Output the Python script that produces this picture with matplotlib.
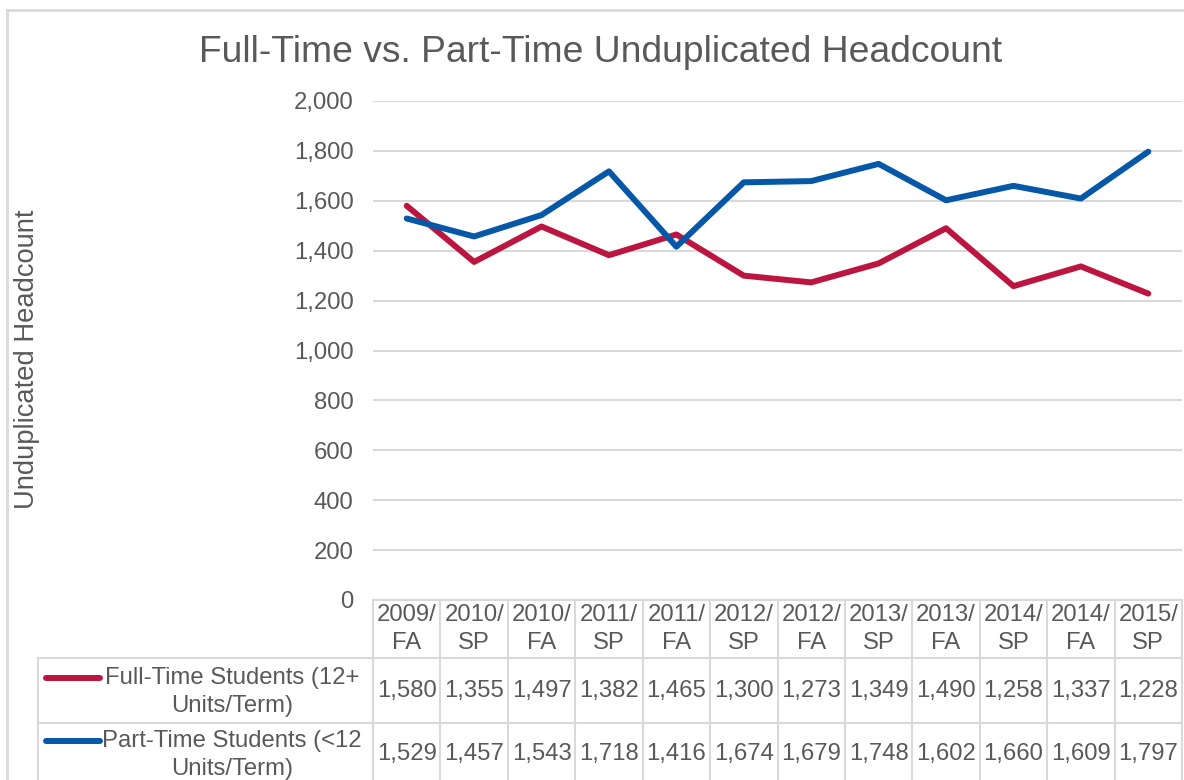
import matplotlib
matplotlib.use("Agg")
import matplotlib.pyplot as plt
from matplotlib.lines import Line2D
from matplotlib.ticker import FuncFormatter

plt.rcParams['font.family'] = ['Liberation Sans', 'DejaVu Sans']

terms = ['2009/\nFA', '2010/\nSP', '2010/\nFA', '2011/\nSP', '2011/\nFA', '2012/\nSP',
         '2012/\nFA', '2013/\nSP', '2013/\nFA', '2014/\nSP', '2014/\nFA', '2015/\nSP']
full_time = [1580, 1355, 1497, 1382, 1465, 1300, 1273, 1349, 1490, 1258, 1337, 1228]
part_time = [1529, 1457, 1543, 1718, 1416, 1674, 1679, 1748, 1602, 1660, 1609, 1797]
series_names = ['Full-Time Students (12+\nUnits/Term)', 'Part-Time Students (<12\nUnits/Term)']
yticks = [0, 200, 400, 600, 800, 1000, 1200, 1400, 1600, 1800, 2000]

red = '#BB1540'
blue = '#0558A8'
txt = '#595959'
grid = '#D9D9D9'
fs = 17.2

W, H = 1184, 780
fig = plt.figure(figsize=(W / 100, H / 100), dpi=100)

def fx(x):
    return x / W

def fy(y):
    return 1 - y / H

# plot area in pixel coordinates
left, right, top, bottom = 373, 1182, 101, 600
ax = fig.add_axes([fx(left), fy(bottom), fx(right) - fx(left), fy(top) - fy(bottom)])

x = list(range(len(terms)))
ax.plot(x, full_time, color=red, lw=4.3, solid_capstyle='round', solid_joinstyle='round', zorder=3)
ax.plot(x, part_time, color=blue, lw=4.3, solid_capstyle='round', solid_joinstyle='round', zorder=4)

ax.set_xlim(-0.5, len(terms) - 0.5)
ax.set_ylim(0, 2000)
ax.set_yticks(yticks)
ax.yaxis.set_major_formatter(FuncFormatter(lambda v, p: f'{int(v):,}'))
ax.tick_params(axis='y', length=0, pad=14, labelsize=fs, labelcolor=txt)
ax.set_xticks([])
ax.grid(axis='y', color=grid, lw=1.5)
ax.set_axisbelow(True)
for s in ['top', 'right', 'left']:
    ax.spines[s].set_visible(False)
ax.spines['bottom'].set_color(grid)
ax.spines['bottom'].set_linewidth(1.5)

# title and axis label
fig.text(fx(601), fy(52), 'Full-Time vs. Part-Time Unduplicated Headcount',
         ha='center', va='center', fontsize=26.8, color=txt)
fig.text(fx(27), fy(359), 'Unduplicated Headcount', rotation=90,
         ha='center', va='center', fontsize=19.7, color=txt)

# outer chart border (left and top only visible)
fig.add_artist(Line2D([fx(7), fx(7)], [fy(10), fy(790)], color=grid, lw=2))
fig.add_artist(Line2D([fx(7), fx(1190)], [fy(10), fy(10)], color=grid, lw=2))

# data table
colw = (right - left) / len(terms)
row_y = [600, 658, 723, 790]
for i in range(len(terms) + 1):
    xx = left + i * colw
    fig.add_artist(Line2D([fx(xx), fx(xx)], [fy(600), fy(790)], color=grid, lw=1.5))
fig.add_artist(Line2D([fx(38), fx(38)], [fy(658), fy(790)], color=grid, lw=1.5))
for yy in row_y[1:3]:
    fig.add_artist(Line2D([fx(38), fx(right)], [fy(yy), fy(yy)], color=grid, lw=1.5))

for i, t in enumerate(terms):
    cx = left + (i + 0.5) * colw
    a, b = t.split('\n')
    fig.text(fx(cx), fy(615), a, ha='center', va='center', fontsize=fs, color=txt)
    fig.text(fx(cx), fy(643), b, ha='center', va='center', fontsize=fs, color=txt)
    fig.text(fx(cx), fy(691), f'{full_time[i]:,}', ha='center', va='center', fontsize=fs, color=txt)
    fig.text(fx(cx), fy(754), f'{part_time[i]:,}', ha='center', va='center', fontsize=fs, color=txt)

# legend keys inside the table
for name, col, y0 in [(series_names[0], red, 678), (series_names[1], blue, 741)]:
    fig.add_artist(Line2D([fx(46), fx(100)], [fy(y0), fy(y0)], color=col, lw=4.3, solid_capstyle='round'))
    l1, l2 = name.split('\n')
    fig.text(fx(232), fy(y0), l1, ha='center', va='center', fontsize=fs, color=txt)
    fig.text(fx(232), fy(y0 + 28), l2, ha='center', va='center', fontsize=fs, color=txt)

fig.savefig('out.png', dpi=100, facecolor='white')
